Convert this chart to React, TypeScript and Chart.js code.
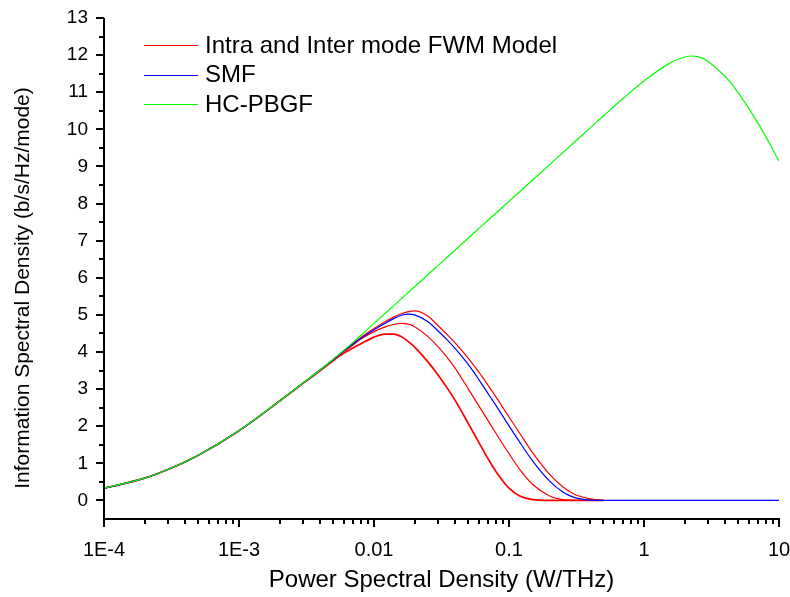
import React, { useEffect, useRef } from "react";
import { Chart, registerables } from "chart.js";

Chart.register(...registerables);

// Power spectral density grid (W/THz)
const powerWTHz = [
  1e-4, 2e-4, 3e-4, 5e-4, 1e-3, 2e-3, 3e-3, 4e-3, 5e-3, 6e-3, 7e-3, 8e-3,
  0.01, 0.012, 0.014, 0.016, 0.018, 0.02, 0.025, 0.03, 0.035, 0.04, 0.05, 0.06,
  0.07, 0.08, 0.1, 0.12, 0.15, 0.2, 0.25, 0.3, 0.4, 0.5, 0.7, 1, 1.5, 2, 2.5, 3,
  4, 5, 7, 10,
];

// HC-PBGF (green)
const hcPbgf = [
  0.33, 0.6, 0.84, 1.22, 1.88, 2.68, 3.17, 3.52, 3.81, 4.05, 4.26, 4.45,
  4.77, 5.03, 5.25, 5.44, 5.61, 5.76, 6.08, 6.34, 6.56, 6.75, 7.07, 7.33,
  7.55, 7.74, 8.06, 8.32, 8.64, 9.05, 9.37, 9.63, 10.04, 10.36, 10.83, 11.3,
  11.75, 11.95, 11.96, 11.82, 11.42, 10.98, 10.16, 9.15,
];

// SMF (blue)
const smf = [
  0.33, 0.6, 0.84, 1.22, 1.88, 2.68, 3.17, 3.52, 3.8, 4.03, 4.22, 4.37,
  4.6, 4.77, 4.9, 4.99, 5.02, 5.0, 4.82, 4.56, 4.32, 4.09, 3.66, 3.25,
  2.88, 2.56, 2.01, 1.57, 1.06, 0.52, 0.23, 0.09, 0.01, 0.0, 0.0, 0.0,
  0.0, 0.0, 0.0, 0.0, 0.0, 0.0, 0.0, 0.0,
];

// Intra and Inter mode FWM model (red curves)
const fwmUpper = [
  0.33, 0.6, 0.84, 1.22, 1.88, 2.68, 3.17, 3.52, 3.8, 4.04, 4.23, 4.39,
  4.63, 4.81, 4.94, 5.03, 5.09, 5.11, 4.97, 4.7, 4.46, 4.24, 3.83, 3.45,
  3.1, 2.79, 2.25, 1.81, 1.28, 0.7, 0.37, 0.18, 0.04, 0.0,
];
const fwmMiddle = [
  0.33, 0.6, 0.84, 1.22, 1.88, 2.68, 3.17, 3.51, 3.79, 4.01, 4.19, 4.35,
  4.55, 4.67, 4.74, 4.77, 4.75, 4.68, 4.42, 4.13, 3.84, 3.56, 3.0, 2.54,
  2.15, 1.81, 1.26, 0.84, 0.43, 0.12, 0.02, 0.0, 0.0, 0.0,
];
const fwmLower = [
  0.33, 0.6, 0.84, 1.22, 1.88, 2.68, 3.16, 3.5, 3.77, 3.97, 4.11, 4.22,
  4.4, 4.48, 4.48, 4.41, 4.28, 4.13, 3.74, 3.37, 3.02, 2.69, 2.07, 1.55,
  1.12, 0.78, 0.33, 0.12, 0.02, 0.0, 0.0, 0.0, 0.0, 0.0,
];

const xTickValues = [1e-4, 1e-3, 0.01, 0.1, 1, 10];
const xTickLabels = ["1E-4", "1E-3", "0.01", "0.1", "1", "10"];
const yTickValues = [0, 1, 2, 3, 4, 5, 6, 7, 8, 9, 10, 11, 12, 13];
const xAxisTitle = "Power Spectral Density (W/THz)";
const yAxisTitle = "Information Spectral Density (b/s/Hz/mode)";
const legendLabels = ["Intra and Inter mode FWM Model", "SMF", "HC-PBGF"];
const legendColors = ["#ff0000", "#0000ff", "#00ff00"];

const FONT = "'Liberation Sans', Arial, Helvetica, sans-serif";

function toPoints(ys: number[]) {
  return ys.map((y, i) => ({ x: powerWTHz[i], y }));
}

const decorPlugin = {
  id: "decor",
  afterDraw(chart: any) {
    const { ctx, chartArea: ca, scales } = chart;
    const xs = scales.x;
    const ys = scales.y;
    ctx.save();
    ctx.strokeStyle = "#000";
    ctx.lineWidth = 2;
    ctx.lineCap = "butt";
    ctx.beginPath();
    // axis lines
    ctx.moveTo(ca.left, ca.top);
    ctx.lineTo(ca.left, ca.bottom + 1);
    ctx.moveTo(ca.left - 1, ca.bottom);
    ctx.lineTo(ca.right + 1, ca.bottom);
    // x ticks (major + minor)
    xTickValues.forEach((v, i) => {
      const px = Math.round(xs.getPixelForValue(v));
      ctx.moveTo(px, ca.bottom);
      ctx.lineTo(px, ca.bottom + 8);
      if (i < xTickValues.length - 1) {
        for (let m = 2; m <= 9; m++) {
          const mp = Math.round(xs.getPixelForValue(v * m));
          ctx.moveTo(mp, ca.bottom);
          ctx.lineTo(mp, ca.bottom + 5);
        }
      }
    });
    // y ticks (major + minor)
    yTickValues.forEach((v, i) => {
      const py = Math.round(ys.getPixelForValue(v));
      ctx.moveTo(ca.left, py);
      ctx.lineTo(ca.left - 8, py);
      if (i < yTickValues.length - 1) {
        const mp = Math.round(ys.getPixelForValue(v + 0.5));
        ctx.moveTo(ca.left, mp);
        ctx.lineTo(ca.left - 5, mp);
      }
    });
    ctx.stroke();

    // axis titles
    ctx.fillStyle = "#000";
    ctx.textAlign = "center";
    ctx.textBaseline = "middle";
    ctx.font = `24px ${FONT}`;
    ctx.fillText(xAxisTitle, (ca.left + ca.right) / 2, 580);
    ctx.save();
    ctx.translate(23, 288);
    ctx.rotate(-Math.PI / 2);
    ctx.font = `21px ${FONT}`;
    ctx.fillText(yAxisTitle, 0, 0);
    ctx.restore();

    // legend
    ctx.font = `24px ${FONT}`;
    ctx.textAlign = "left";
    legendLabels.forEach((label, i) => {
      const y = 45 + i * 29.5;
      ctx.strokeStyle = legendColors[i];
      ctx.lineWidth = 1;
      ctx.beginPath();
      ctx.moveTo(144, Math.round(y) + 0.5);
      ctx.lineTo(198, Math.round(y) + 0.5);
      ctx.stroke();
      ctx.fillStyle = "#000";
      ctx.fillText(label, 205, y + 1);
    });
    ctx.restore();
  },
};

export default function App() {
  const canvasRef = useRef<HTMLCanvasElement | null>(null);

  useEffect(() => {
    const canvas = canvasRef.current;
    if (!canvas) return;
    const line = (data: number[], color: string, width: number, smooth: boolean) => ({
      data: toPoints(data),
      borderColor: color,
      backgroundColor: color,
      borderWidth: width,
      pointRadius: 0,
      fill: false,
      ...(smooth
        ? { tension: 0.4 }
        : { cubicInterpolationMode: "monotone" as const }),
    });
    const chart = new Chart(canvas, {
      type: "line",
      data: {
        datasets: [
          { label: legendLabels[2], ...line(hcPbgf, "#00ff00", 1.2, true) },
          { label: legendLabels[1], ...line(smf, "#0000ff", 1.2, false) },
          { label: legendLabels[0], ...line(fwmUpper, "#ff0000", 1.2, false) },
          { label: legendLabels[0], ...line(fwmMiddle, "#ff0000", 1.2, false) },
          { label: legendLabels[0], ...line(fwmLower, "#ff0000", 1.7, false) },
        ],
      },
      options: {
        responsive: false,
        animation: false,
        devicePixelRatio: 1,
        layout: { padding: { left: 0, top: 18, right: 11, bottom: 0 } },
        plugins: {
          legend: { display: false },
          tooltip: { enabled: false },
        },
        scales: {
          x: {
            type: "logarithmic",
            min: 1e-4,
            max: 10,
            grid: { display: false, drawTicks: false },
            border: { display: false },
            afterBuildTicks: (scale: any) => {
              scale.ticks = xTickValues.map((v) => ({ value: v }));
            },
            afterFit: (scale: any) => {
              scale.height = 78;
              scale.paddingLeft = 0;
              scale.paddingRight = 0;
            },
            ticks: {
              autoSkip: false,
              maxRotation: 0,
              padding: 19,
              color: "#000",
              font: { family: FONT, size: 20 },
              callback: (_v: any, i: number) => xTickLabels[i],
            },
          },
          y: {
            type: "linear",
            min: -0.5,
            max: 13,
            grid: { display: false, drawTicks: false },
            border: { display: false },
            afterBuildTicks: (scale: any) => {
              scale.ticks = yTickValues.map((v) => ({ value: v }));
            },
            afterFit: (scale: any) => {
              scale.width = 104;
              scale.paddingTop = 0;
              scale.paddingBottom = 0;
            },
            ticks: {
              autoSkip: false,
              padding: 16,
              color: "#000",
              font: { family: FONT, size: 19 },
              callback: (v: any) => String(v),
            },
          },
        },
      },
      plugins: [decorPlugin],
    });
    return () => chart.destroy();
  }, []);

  return (
    <div style={{ position: "absolute", left: 0, top: 0, width: 790, height: 597, background: "#fff" }}>
      <canvas ref={canvasRef} width={790} height={597} style={{ display: "block" }} />
    </div>
  );
}
